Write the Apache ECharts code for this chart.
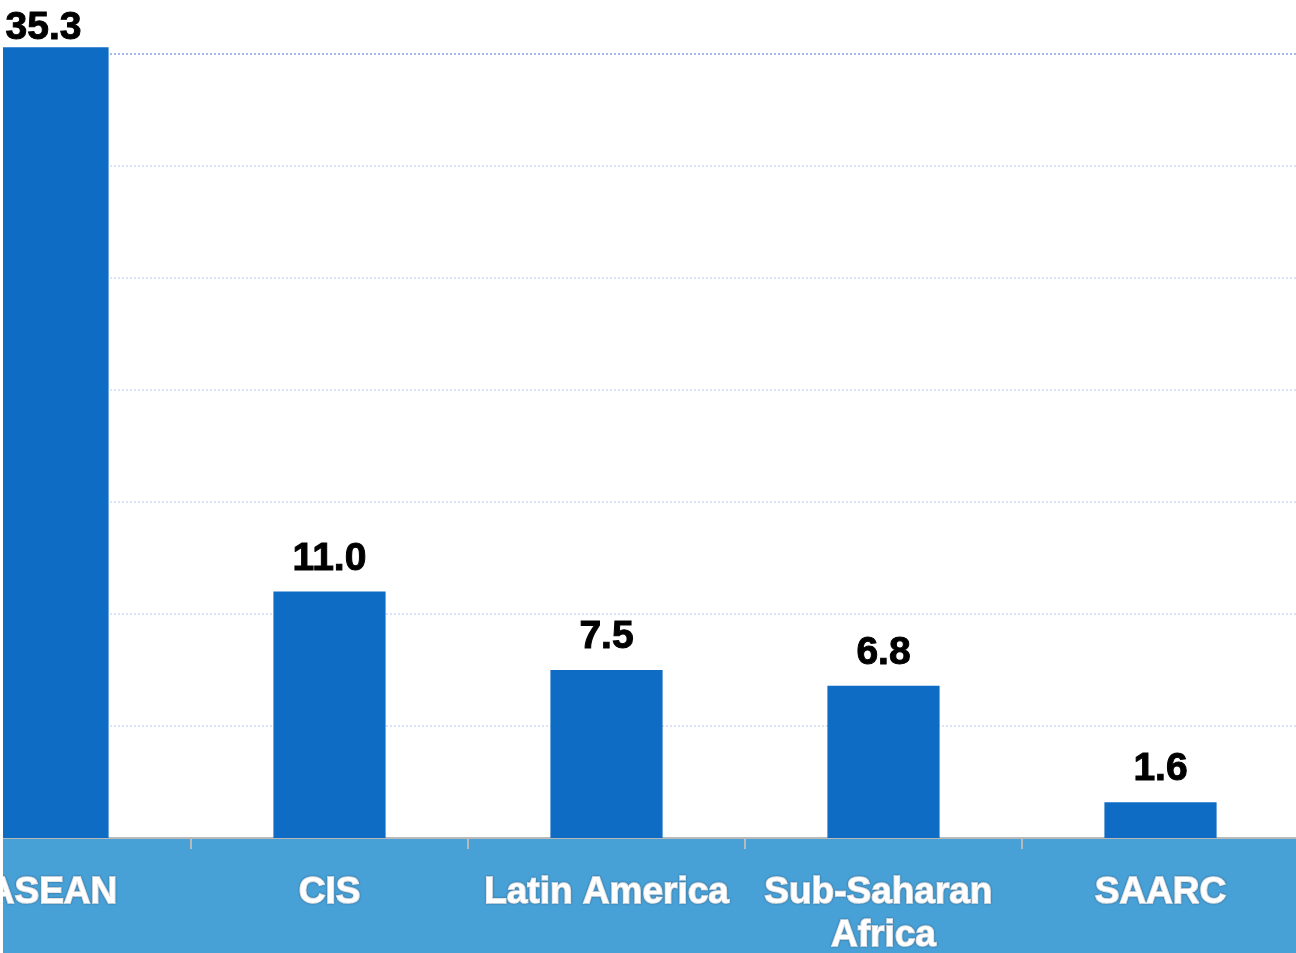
<!DOCTYPE html>
<html>
<head>
<meta charset="utf-8">
<style>
  html, body { margin: 0; padding: 0; background: #fff; }
  #chart { width: 1296px; height: 953px; }
</style>
<script src="https://cdn.jsdelivr.net/npm/echarts@6/dist/echarts.min.js"></script>
</head>
<body>
<div id="chart"></div>
<script>
// data
const regions = ['ASEAN', 'CIS', 'Latin America', 'Sub-Saharan Africa', 'SAARC']
const values = [35.3, 11.0, 7.5, 6.8, 1.6]
const yTicks = [0, 5, 10, 15, 20, 25, 30, 35]

const myChart = echarts.init(document.getElementById('chart'))

// grid lines: lower ones pale, top one darker
const gridColors = yTicks.map((t, i) => i === yTicks.length - 1 ? '#a6b8ec' : '#dce3f6')

const options = {
  animation: false,
  grid: {
    left: -86,
    right: -3,
    top: 54,
    bottom: 115,
    outerBoundsMode: 'none',
    containLabel: false
  },
  graphic: [
    {
      // blue band behind the category labels
      type: 'rect',
      z: -10,
      shape: { x: 3, y: 838, width: 1293, height: 115 },
      style: { fill: '#47a0d6' }
    },
    {
      // white strip at the very left edge
      type: 'rect',
      z: 100,
      shape: { x: 0, y: 0, width: 3, height: 953 },
      style: { fill: '#ffffff' }
    }
  ],
  xAxis: {
    type: 'category',
    data: regions,
    axisLine: {
      lineStyle: { color: '#b9b9b9', width: 2 }
    },
    axisTick: {
      show: true,
      length: 11,
      lineStyle: { color: '#b9b9b9', width: 2 }
    },
    axisLabel: {
      interval: 0,
      margin: 33,
      color: '#ffffff',
      fontFamily: 'Liberation Sans, Arial, sans-serif',
      fontWeight: 'bold',
      fontSize: 37,
      lineHeight: 43,
      width: 265,
      overflow: 'break',
      textBorderColor: '#ffffff',
      textBorderWidth: 1.5,
      textShadowColor: 'rgba(40,60,80,0.55)',
      textShadowBlur: 2
    }
  },
  yAxis: {
    type: 'value',
    min: 0,
    max: 35,
    interval: 5,
    axisLabel: { show: false },
    axisLine: { show: false },
    axisTick: { show: false },
    splitLine: {
      lineStyle: {
        color: gridColors,
        width: 2,
        type: [2, 2]
      }
    }
  },
  series: [
    {
      type: 'bar',
      barWidth: '40.5%',
      clip: false,
      data: values.map((v, i) => ({
        value: v,
        // first label sits tight above the bar near the top edge
        label: i === 0 ? { distance: 0, offset: [-9, 0] } : undefined
      })),
      itemStyle: { color: '#0f6cc4' },
      label: {
        show: true,
        position: 'top',
        distance: 13,
        color: '#000',
        fontFamily: 'Liberation Sans, Arial, sans-serif',
        fontWeight: 'bold',
        fontSize: 39,
        textBorderColor: '#000',
        textBorderWidth: 1,
        formatter: p => p.value.toFixed(1)
      }
    }
  ]
}
myChart.setOption(options)
</script>
</body>
</html>
